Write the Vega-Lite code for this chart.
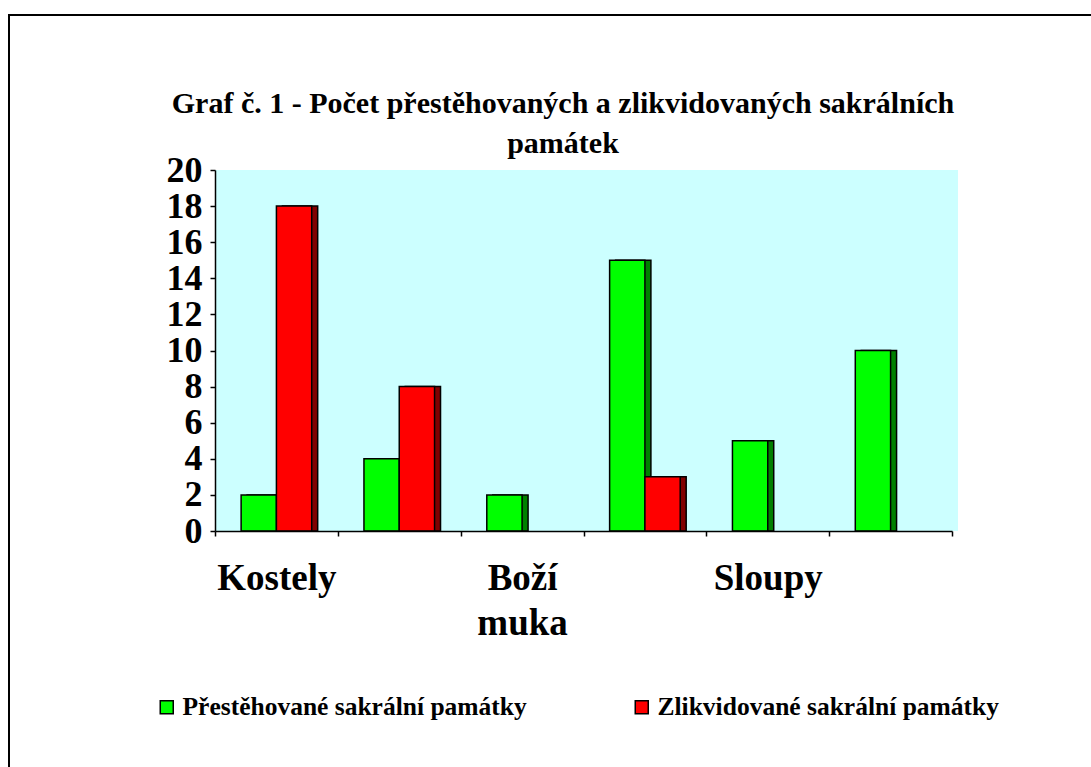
{
  "$schema": "https://vega.github.io/schema/vega-lite/v6.json",
  "width": 1082,
  "height": 752,
  "autosize": {"type": "none"},
  "padding": {"left": 9, "top": 15, "right": 0, "bottom": 0},
  "background": "white",
  "config": {
    "view": {"stroke": "black", "strokeWidth": 2, "strokeDash": [1082, 1834, 752], "fill": null},
    "font": "Liberation Serif",
    "axis": {"grid": false}
  },
  "title": {
    "text": ["Graf č. 1 - Počet přestěhovaných a zlikvidovaných sakrálních", "památek"],
    "font": "Liberation Serif",
    "fontSize": 30,
    "fontWeight": "bold",
    "color": "black",
    "lineHeight": 40,
    "anchor": "middle",
    "frame": "group",
    "baseline": "alphabetic",
    "offset": 0,
    "dx": 13,
    "dy": 168
  },
  "data": {
    "values": [
      {"druh": "Kostely", "typ": "Přestěhované sakrální památky", "hodnota": 2},
      {"druh": "Kostely", "typ": "Zlikvidované sakrální památky", "hodnota": 18},
      {"druh": "Kaple", "typ": "Přestěhované sakrální památky", "hodnota": 4},
      {"druh": "Kaple", "typ": "Zlikvidované sakrální památky", "hodnota": 8},
      {"druh": "Boží muka", "typ": "Přestěhované sakrální památky", "hodnota": 2},
      {"druh": "Boží muka", "typ": "Zlikvidované sakrální památky", "hodnota": 0},
      {"druh": "Kříže", "typ": "Přestěhované sakrální památky", "hodnota": 15},
      {"druh": "Kříže", "typ": "Zlikvidované sakrální památky", "hodnota": 3},
      {"druh": "Sloupy", "typ": "Přestěhované sakrální památky", "hodnota": 5},
      {"druh": "Sloupy", "typ": "Zlikvidované sakrální památky", "hodnota": 0},
      {"druh": "Sochy", "typ": "Přestěhované sakrální památky", "hodnota": 10},
      {"druh": "Sochy", "typ": "Zlikvidované sakrální památky", "hodnota": 0}
    ]
  },
  "layer": [
    {
      "transform": [{"aggregate": [{"op": "count", "as": "n"}]}],
      "mark": {"type": "rect", "fill": "#CCFFFF", "stroke": null},
      "encoding": {
        "x": {"datum": "plocha", "type": "nominal", "scale": {"range": [206, 949], "paddingInner": 0, "paddingOuter": 0}, "axis": null},
        "y": {
          "datum": 0, "type": "quantitative",
          "scale": {"domain": [0, 20], "range": [516, 155]},
          "axis": {
            "title": null, "offset": -206, "values": [0, 2, 4, 6, 8, 10, 12, 14, 16, 18, 20], "zindex": 2,
            "tickSize": 5, "tickWidth": 1.5, "tickColor": "black",
            "domainColor": "black", "domainWidth": 1.5, "grid": false,
            "labelFont": "Liberation Serif", "labelFontSize": 36, "labelFontWeight": "bold",
            "labelColor": "black", "labelPadding": 8
          }
        },
        "y2": {"datum": 20}
      }
    },
    {
      "transform": [{"filter": "datum.hodnota > 0"}],
      "mark": {"type": "bar", "stroke": "black", "strokeWidth": 1.5},
      "encoding": {
        "x": {"field": "druh", "type": "nominal", "sort": ["Kostely", "Kaple", "Boží muka", "Kříže", "Sloupy", "Sochy"], "scale": {"range": [206, 943], "paddingInner": 0, "paddingOuter": 0}, "axis": null},
        "xOffset": {"field": "typ", "type": "nominal", "sort": ["Přestěhované sakrální památky", "Zlikvidované sakrální památky"], "scale": {"range": [6, 128.8], "paddingInner": 0, "paddingOuter": 0.74}},
        "y": {
          "field": "hodnota", "type": "quantitative",
          "scale": {"domain": [0, 20], "range": [516, 155]},
          "axis": {
            "title": null, "offset": -206, "values": [0, 2, 4, 6, 8, 10, 12, 14, 16, 18, 20], "zindex": 2,
            "tickSize": 5, "tickWidth": 1.5, "tickColor": "black",
            "domainColor": "black", "domainWidth": 1.5, "grid": false,
            "labelFont": "Liberation Serif", "labelFontSize": 36, "labelFontWeight": "bold",
            "labelColor": "black", "labelPadding": 8
          }
        },
        "color": {"condition": {"test": "datum.typ == 'Zlikvidované sakrální památky'", "value": "#800000"}, "value": "#008000"}
      }
    },
    {
      "transform": [{"filter": "datum.hodnota > 0"}],
      "mark": {"type": "bar", "stroke": "black", "strokeWidth": 1.5},
      "encoding": {
        "x": {
          "field": "druh", "type": "nominal",
          "sort": ["Kostely", "Kaple", "Boží muka", "Kříže", "Sloupy", "Sochy"],
          "scale": {"range": [206, 943], "paddingInner": 0, "paddingOuter": 0},
          "axis": {
            "orient": "bottom", "offset": -236, "title": null, "tickBand": "extent", "zindex": 2,
            "tickSize": 5, "tickWidth": 1.5, "tickColor": "black",
            "domainColor": "black", "domainWidth": 1.5,
            "labelAngle": 0, "labelFont": "Liberation Serif", "labelFontSize": 37, "labelFontWeight": "bold",
            "labelColor": "black", "labelPadding": 24, "labelLineHeight": 45, "labelOverlap": false,
            "labelBaseline": "top", "labelLimit": 300,
            "labelExpr": "datum.value == 'Boží muka' ? ['Boží', 'muka'] : ((datum.value == 'Kostely' || datum.value == 'Sloupy') ? datum.value : '')"
          }
        },
        "xOffset": {"field": "typ", "type": "nominal", "sort": ["Přestěhované sakrální památky", "Zlikvidované sakrální památky"], "scale": {"paddingInner": 0, "paddingOuter": 0.74}},
        "y": {
          "field": "hodnota", "type": "quantitative",
          "scale": {"domain": [0, 20], "range": [516, 155]},
          "axis": {
            "title": null, "offset": -206, "values": [0, 2, 4, 6, 8, 10, 12, 14, 16, 18, 20], "zindex": 2,
            "tickSize": 5, "tickWidth": 1.5, "tickColor": "black",
            "domainColor": "black", "domainWidth": 1.5, "grid": false,
            "labelFont": "Liberation Serif", "labelFontSize": 36, "labelFontWeight": "bold",
            "labelColor": "black", "labelPadding": 8
          }
        },
        "color": {
          "field": "typ", "type": "nominal",
          "sort": ["Přestěhované sakrální památky", "Zlikvidované sakrální památky"],
          "scale": {"domain": ["Přestěhované sakrální památky", "Zlikvidované sakrální památky"], "range": ["#00FF00", "#FF0000"]},
          "legend": {
            "orient": "none", "legendX": 145, "legendY": 679, "direction": "horizontal",
            "title": null, "symbolType": "square", "symbolSize": 169,
            "symbolStrokeColor": "black", "symbolStrokeWidth": 1.5, "symbolOpacity": 1,
            "labelFont": "Liberation Serif", "labelFontSize": 25.5, "labelFontWeight": "bold",
            "labelColor": "black", "labelLimit": 500, "labelOffset": 3,
            "columnPadding": 102, "padding": 0
          }
        }
      }
    }
  ],
  "resolve": {"scale": {"x": "independent", "xOffset": "independent"}, "axis": {"x": "independent"}}
}
